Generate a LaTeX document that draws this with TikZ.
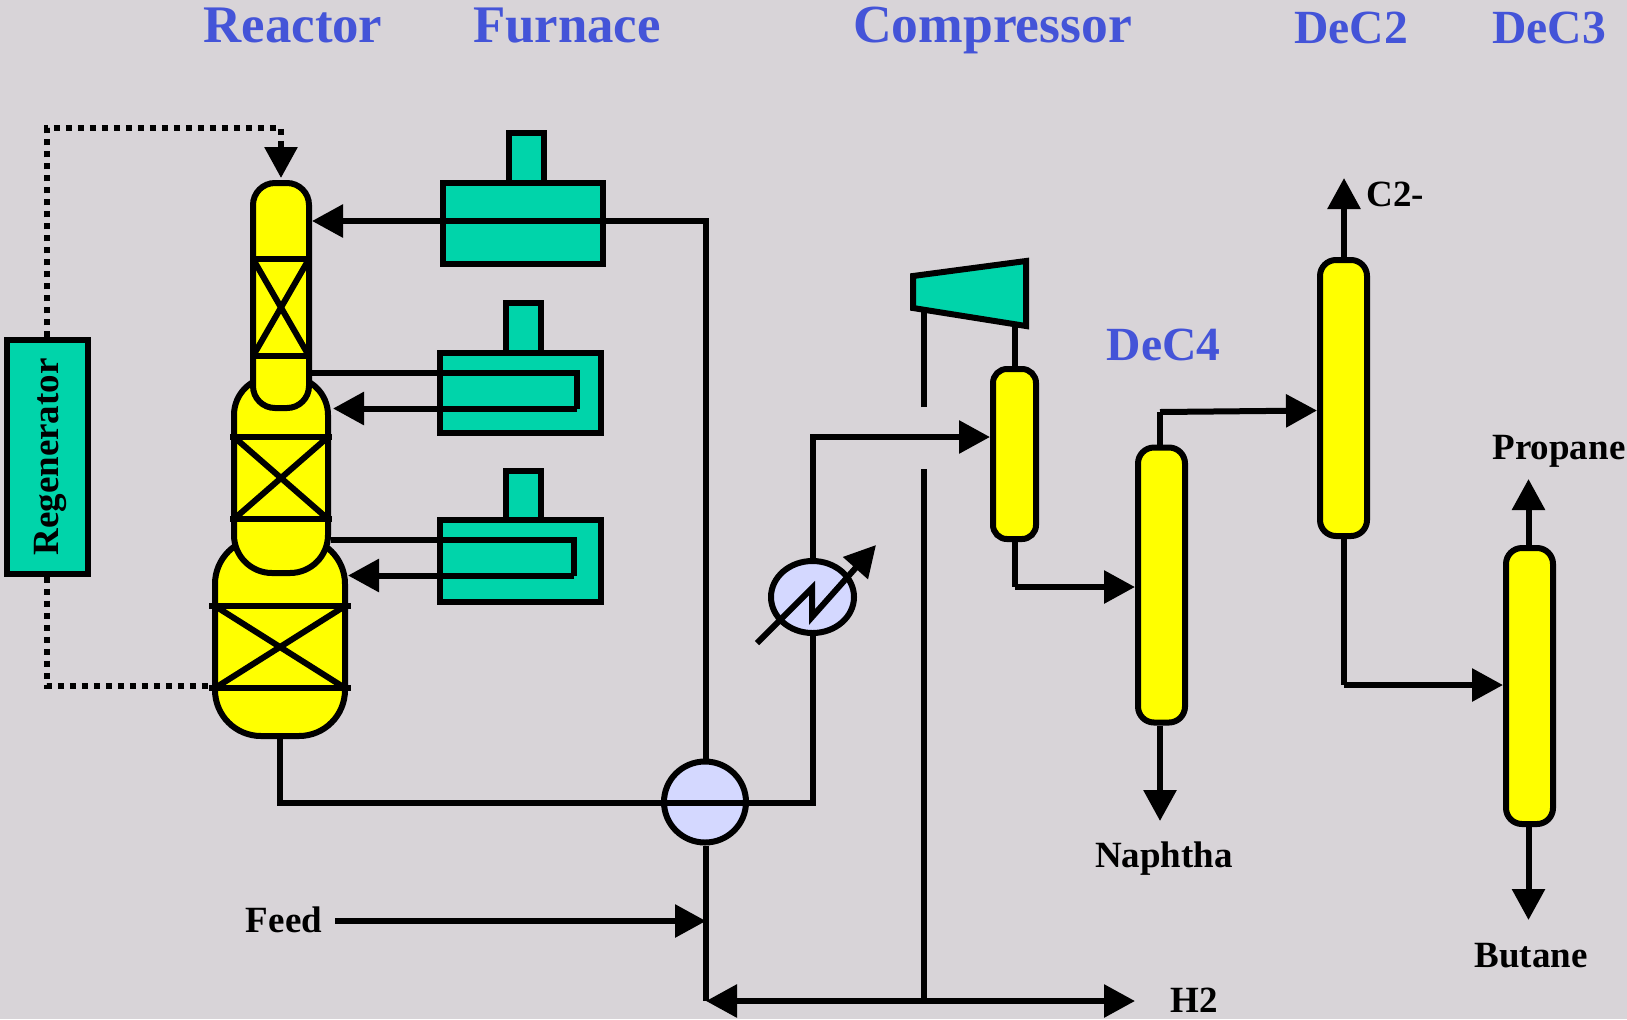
\documentclass[tikz,border=0pt]{standalone}
\usepackage{fontspec}
\setmainfont{Liberation Serif}
\usetikzlibrary{arrows.meta,shapes.geometric}
\definecolor{bgc}{HTML}{D8D4D8}
\definecolor{tealc}{HTML}{00D4AA}
\definecolor{yelc}{HTML}{FFFF00}
\definecolor{lilac}{HTML}{D4D8FF}
\definecolor{bluec}{HTML}{4454D8}
\newcommand{\packbed}[5]{% left right top bottom overhang
  \draw[pipe] (#1-#5,#3) -- (#2+#5,#3);
  \draw[pipe] (#1-#5,#4) -- (#2+#5,#4);
  \draw[pipe] (#1,#3) -- (#2,#4);
  \draw[pipe] (#2,#3) -- (#1,#4);}
\tikzset{
  x=0.5pt,y=-0.5pt,
  pipe/.style={line width=3pt,draw=black},
  flow/.style={pipe,-{Triangle[length=15.5pt,width=16pt]}},
  dots/.style={line width=3pt,draw=black,dash pattern=on 3pt off 3pt},
  box/.style={draw=black,line width=3pt,fill=tealc,rectangle,inner sep=0pt},
  vessel/.style={draw=black,line width=3pt,fill=yelc,rectangle,inner sep=0pt},
  exch/.style={draw=black,line width=3pt,fill=lilac,ellipse,inner sep=0pt},
  title/.style={text=bluec,inner sep=0pt,anchor=base,font=\bfseries\fontsize{26.4}{28}\selectfont},
  titlesm/.style={title,font=\bfseries\fontsize{23.8}{26}\selectfont},
  lab/.style={text=black,inner sep=0pt,font=\bfseries\fontsize{18.5}{20}\selectfont},
}
\begin{document}
\begin{tikzpicture}
\useasboundingbox (0,0) rectangle (1627,1019);
\fill[bgc] (0,0) rectangle (1627,1019);
% titles
\node[title] (tReactor) at (293,42) {Reactor};
\node[title] (tFurnace) at (567,42) {Furnace};
\node[title,font=\bfseries\fontsize{26.8}{28}\selectfont] (tComp) at (992.5,42) {Compressor};
\node[titlesm] (tDeC2) at (1351,43) {DeC2};
\node[titlesm] (tDeC3) at (1549,43) {DeC3};
\node[titlesm] (tDeC4) at (1163.5,360) {DeC4};
% reactor
\node[vessel,rounded corners=23pt,minimum width=65pt,minimum height=99pt] (v3) at (280,637) {};
\packbed{215}{345}{606}{688}{6}
\node[vessel,rounded corners=19pt,minimum width=47pt,minimum height=98pt] (v2) at (281,475) {};
\packbed{234}{328}{437}{519}{4}
\node[vessel,rounded corners=11pt,minimum width=28pt,minimum height=112.5pt] (v1) at (281,295.5) {};
\packbed{253}{309}{259}{356}{3}
% regenerator
\node[box,minimum width=40.5pt,minimum height=116.75pt] (reg) at (47.5,457) {};
\node[lab,rotate=90] (tReg) at (50,457) {Regenerator};
\coordinate (d1) at (47,128);
\coordinate (d2) at (47,686);
\draw[dots] (reg.north -| d1) -- (d1) -- (d1 -| v1.north) -- ([yshift=16pt]v1.north);
\draw[flow] ([yshift=17pt]v1.north) -- ([yshift=1pt]v1.north);
\draw[dots] (reg.south -| d1) -- (d2) -- (d2 -| v3.west);
% furnace 1
\node[box,minimum width=17.5pt,minimum height=28.5pt] (s1) at (526.5,161.5) {};
\node[box,minimum width=80pt,minimum height=40.5pt] (f1) at (523,223.5) {};
% furnace 2
\node[box,minimum width=17.5pt,minimum height=28.5pt] (s2) at (523.5,331) {};
\node[box,minimum width=80.5pt,minimum height=40pt] (f2) at (520.5,393) {};
% furnace 3
\node[box,minimum width=17.5pt,minimum height=28.5pt] (s3) at (523.5,499) {};
\node[box,minimum width=80.5pt,minimum height=41pt] (f3) at (520.5,561) {};
% exchangers
\node[exch,minimum width=41pt,minimum height=40.5pt] (e1) at (705,802) {};
\node[exch,minimum width=41.5pt,minimum height=36pt] (e2) at (812.5,597) {};
% compressor
\coordinate (c1) at (913,276);
\coordinate (c2) at (1026,261);
\coordinate (c3) at (1026,326);
\coordinate (c4) at (913,308);
\filldraw[draw=black,line width=3pt,fill=tealc,miter limit=10] (c1) -- (c2) -- (c3) -- (c4) -- cycle;
% columns
\node[vessel,rounded corners=7pt,minimum width=21.5pt,minimum height=85pt] (d0) at (1014.5,454) {};
\node[vessel,rounded corners=8pt,minimum width=23.5pt,minimum height=137.5pt] (dc4) at (1161.5,585) {};
\node[vessel,rounded corners=8pt,minimum width=23.5pt,minimum height=138pt] (dc2) at (1343.5,398) {};
\node[vessel,rounded corners=8pt,minimum width=23.5pt,minimum height=138pt] (dc3) at (1529.5,686) {};
% furnace and reactor piping
\coordinate (a1) at (706,221);
\coordinate (a2) at (706,1001);
\draw[flow] (e1.north -| a1) -- (a1) -- (a1 -| v1.east);
\coordinate (b1) at (577,372.5);
\coordinate (b2) at (577,408.5);
\draw[pipe] (v1.east |- b1) -- (b1) -- (b2);
\draw[flow] (b2) -- (333,408.5);
\coordinate (b3) at (574,540);
\coordinate (b4) at (574,575.5);
\draw[pipe] (v2.east |- b3) -- (b3) -- (b4);
\draw[flow] (b4) -- (348,575.5);
% effluent through exchanger
\coordinate (g1) at (280,803);
\coordinate (g2) at (812.5,803);
\coordinate (g3) at (812.5,437);
\draw[pipe] (v3.south -| g1) -- (g1) -- (g2) -- (e2.south -| g2);
\draw[flow] (e2.north -| g3) -- (g3) -- (d0.west |- g3);
% heater symbol
\coordinate (h1) at (757,643);
\coordinate (h2) at (812,588);
\coordinate (h3) at (812,617);
\coordinate (h4) at (876,545);
\draw[flow,miter limit=10] (h1) -- (h2) -- (h3) -- (h4);
% feed and H2
\draw[pipe] (e1.south -| a1) -- (a2);
\coordinate (fd) at (335,921);
\draw[flow] (fd) -- (fd -| a1);
\coordinate (h2r) at (1135,1001);
\coordinate (k1) at (924,1001);
\draw[flow] (k1) -- (h2r);
\draw[flow] (k1) -- (a2);
\coordinate (k2) at (924,469);
\coordinate (k3) at (924,407);
\coordinate (k4) at (924,310);
\draw[pipe] (k1) -- (k2);
\draw[pipe] (k3) -- (k4);
% compressor to drum
\coordinate (m1) at (1014.5,327);
\draw[pipe] (m1) -- (d0.north);
% drum to DeC4
\coordinate (m2) at (1014.5,587);
\draw[pipe] (d0.south) -- (m2);
\draw[flow] (m2) -- (dc4.west |- m2);
% DeC4 to DeC2
\coordinate (n1) at (1160,412);
\coordinate (n2) at (1317,410.5);
\draw[pipe] (n1 |- dc4.north) -- (n1);
\draw[flow] (n1) -- (n2);
\coordinate (n3) at (1160,821);
\draw[flow] (n3 |- dc4.south) -- (n3);
% DeC2
\coordinate (p1) at (1344,178);
\draw[flow] (p1 |- dc2.north) -- (p1);
\coordinate (p2) at (1344,685);
\draw[pipe] (p2 |- dc2.south) -- (p2);
\draw[flow] (p2) -- (dc3.west |- p2);
% DeC3
\coordinate (q1) at (1528.5,479);
\coordinate (q2) at (1528.5,920);
\draw[flow] (q1 |- dc3.north) -- (q1);
\draw[flow] (q2 |- dc3.south) -- (q2);
% labels
\node[lab] (lC2) at (1395.5,194) {C2-};
\node[lab] (lProp) at (1559,451.5) {Propane};
\node[lab] (lNaph) at (1164,859) {Naphtha};
\node[lab] (lBut) at (1531,956) {Butane};
\node[lab] (lFeed) at (284,920) {Feed};
\node[lab] (lH2) at (1194,1000) {H2};
\end{tikzpicture}
\end{document}
